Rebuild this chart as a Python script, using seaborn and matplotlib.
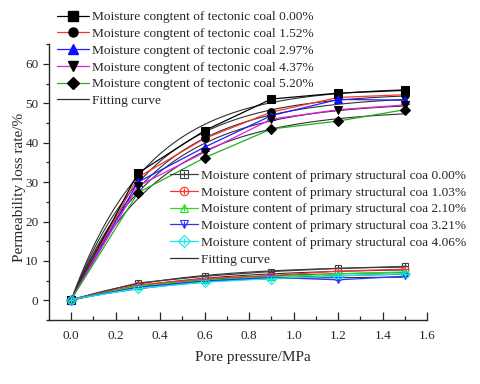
import numpy as np
import pandas as pd
import seaborn as sns
import matplotlib.pyplot as plt
from matplotlib.lines import Line2D

# pore pressure (MPa)
pressure = [0.0, 0.3, 0.6, 0.9, 1.2, 1.5]

# tectonic coal, permeability loss rate (%)
tect_labels = ["Moisture congtent of tectonic coal 0.00%",
               "Moisture congtent of tectonic coal 1.52%",
               "Moisture congtent of tectonic coal 2.97%",
               "Moisture congtent of tectonic coal 4.37%",
               "Moisture congtent of tectonic coal 5.20%"]
tect_000 = [0.2, 32.3, 43.1, 51.1, 52.6, 53.3]
tect_152 = [0.2, 31.2, 41.1, 47.8, 51.5, 52.2]
tect_297 = [0.2, 30.0, 38.9, 46.9, 51.0, 50.8]
tect_437 = [0.2, 29.0, 37.6, 46.0, 48.4, 49.6]
tect_520 = [0.2, 27.3, 36.2, 43.5, 45.5, 48.4]

# primary structural coal
prim_labels = ["Moisture content of primary structural coa 0.00%",
               "Moisture content of primary structural coa 1.03%",
               "Moisture content of primary structural coa 2.10%",
               "Moisture content of primary structural coa 3.21%",
               "Moisture content of primary structural coa 4.06%"]
prim_000 = [0.2, 4.4, 6.1, 7.3, 8.1, 8.6]
prim_103 = [0.2, 3.9, 5.5, 6.3, 7.4, 7.9]
prim_210 = [0.2, 3.6, 5.1, 6.0, 6.7, 7.2]
prim_321 = [0.2, 3.3, 4.9, 5.8, 5.2, 6.1]
prim_406 = [0.2, 3.0, 4.6, 5.5, 6.2, 6.7]

tect_series = [tect_000, tect_152, tect_297, tect_437, tect_520]
prim_series = [prim_000, prim_103, prim_210, prim_321, prim_406]

tect_line_colors = ["black", "#ff3030", "#2020ff", "#e020e0", "#20b020"]
tect_marker_colors = ["black", "black", "#1010ff", "black", "black"]
tect_markers = ["s", "o", "^", "v", "D"]

prim_colors = ["#404040", "#ff3030", "#20e020", "#3030ff", "#10e8f0"]
prim_markers = ["s", "o", "^", "v", "D"]

fit_color = "#303030"


def fit_curve(x, y):
    # least squares fit of y = a * (1 - exp(-b x))
    x = np.asarray(x)
    y = np.asarray(y)
    best = None
    for b in np.linspace(0.1, 12, 3000):
        f = 1 - np.exp(-b * x)
        a = (f @ y) / (f @ f)
        sse = ((a * f - y) ** 2).sum()
        if best is None or sse < best[0]:
            best = (sse, a, b)
    xs = np.linspace(0, max(x), 120)
    return xs, best[1] * (1 - np.exp(-best[2] * xs))


sns.set_style("ticks")
plt.rcParams['font.family'] = ['Liberation Serif', 'DejaVu Serif']

fig = plt.figure(figsize=(4.8, 3.84), dpi=100)
ax = fig.add_axes([0.102, 0.1667, 0.788, 0.718])

# fitting curves
for ys in tect_series + prim_series:
    xs, yf = fit_curve(pressure, ys)
    sns.lineplot(x=xs, y=yf, color=fit_color, lw=0.8, ax=ax, zorder=2)

# tectonic coal
tect_handles = []
for ys, lc, mc, mk in zip(tect_series, tect_line_colors, tect_marker_colors, tect_markers):
    sns.lineplot(x=pressure, y=ys, color=lc, lw=0.9, marker=mk, markersize=5.5,
                 markerfacecolor=mc, markeredgecolor=mc, ax=ax, zorder=3)
    tect_handles.append(Line2D([], [], color=lc, lw=0.9, marker=mk, markersize=6.5,
                               markerfacecolor=mc, markeredgecolor=mc))

# primary structural coal
prim_handles = []
for ys, c, mk in zip(prim_series, prim_colors, prim_markers):
    sns.lineplot(x=pressure, y=ys, color=c, lw=0.9, marker=mk, markersize=5,
                 markerfacecolor="none", markeredgecolor=c, markeredgewidth=0.8,
                 ax=ax, zorder=3)
    sns.scatterplot(x=pressure, y=ys, color=c, marker="+", s=22, linewidth=0.8,
                    ax=ax, zorder=4)
    h1 = Line2D([], [], color=c, lw=0.9, marker=mk, markersize=6,
                markerfacecolor="none", markeredgecolor=c, markeredgewidth=0.8)
    h2 = Line2D([], [], color=c, lw=0, marker="+", markersize=5, markeredgewidth=0.8)
    prim_handles.append((h1, h2))

fit_handle = Line2D([], [], color=fit_color, lw=0.9)

ax.set_xlim(-0.1, 1.6)
ax.set_ylim(-5, 65)
ax.set_xticks(np.arange(0, 1.61, 0.2))
ax.set_xticks(np.arange(0.1, 1.6, 0.2), minor=True)
ax.set_yticks(np.arange(0, 61, 10))
ax.set_yticks(np.arange(-5, 66, 10), minor=True)
ax.xaxis.set_major_formatter(plt.FormatStrFormatter('%.1f'))
ax.tick_params(axis='x', direction='in', length=6, width=0.9, labelsize=9.5, pad=7)
ax.tick_params(axis='x', which='minor', direction='in', length=3, width=0.9)
ax.tick_params(axis='y', direction='out', length=4, width=0.9, labelsize=9.5)
ax.tick_params(axis='y', which='minor', direction='out', length=2.5, width=0.9)
sns.despine(ax=ax)
for s in ['left', 'bottom']:
    ax.spines[s].set_linewidth(1.0)

ax.set_xlabel("Pore pressure/MPa", fontsize=11)
ax.xaxis.set_label_coords(0.538, -0.113)
ax.set_ylabel("Permeability loss rate/%", fontsize=11)
ax.yaxis.set_label_coords(-0.062, 0.48)

leg1 = fig.legend(tect_handles + [fit_handle], tect_labels + ["Fitting curve"],
                  loc="upper left", bbox_to_anchor=(57 / 480, 1 - 11 / 384),
                  frameon=False, fontsize=9.6, borderpad=0, borderaxespad=0,
                  handlelength=2.4, handletextpad=0.2, labelspacing=0.33)
leg2 = fig.legend(prim_handles + [fit_handle], prim_labels + ["Fitting curve"],
                  loc="upper left", bbox_to_anchor=(170 / 480, 1 - 169.5 / 384),
                  frameon=False, fontsize=9.6, borderpad=0, borderaxespad=0,
                  handlelength=2.1, handletextpad=0.2, labelspacing=0.33)

fig.savefig("out.png", dpi=100)
